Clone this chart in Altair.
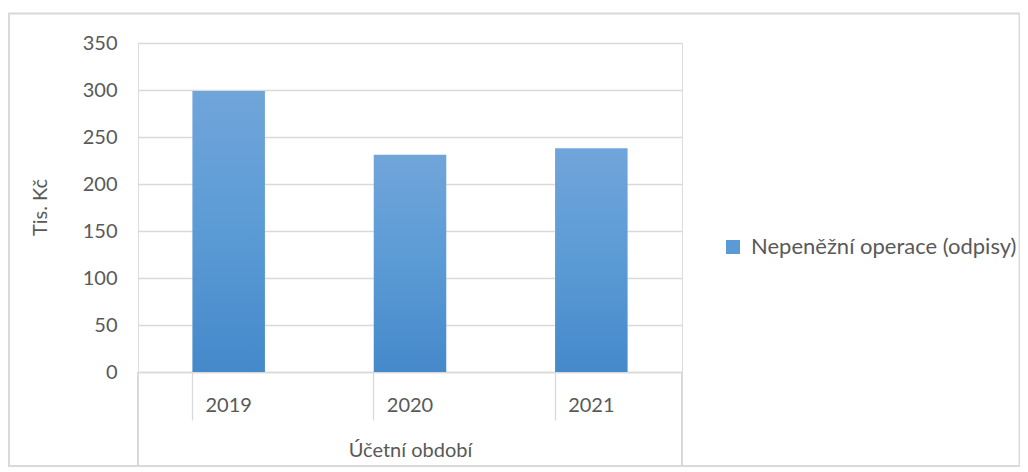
import altair as alt
import pandas as pd

years = ["2019", "2020", "2021"]
values = [299, 231, 238]
series_name = "Nepeněžní operace (odpisy)"

df = pd.DataFrame({"rok": years, "hodnota": values, "serie": [series_name] * 3})

FONT = "Lato"
TXT = "#595959"
GRID = "#D9D9D9"
FS = 20
W, H = 544, 329

x_enc = alt.X(
    "rok:N",
    sort=years,
    scale=alt.Scale(paddingInner=0.6, paddingOuter=0.3),
    axis=alt.Axis(
        title="Účetní období",
        labelAngle=0,
        bandPosition=0,
        ticks=True,
        tickSize=48,
        tickColor=GRID,
        tickWidth=1.3,
        domainColor=GRID,
        domainWidth=1.3,
        labelBaseline="middle",
        labelPadding=-15,
        labelFontSize=FS,
        labelColor=TXT,
        labelFont=FONT,
        titleFont=FONT,
        titleFontSize=FS,
        titleFontWeight="normal",
        titleColor=TXT,
        titleY=78,
        titleBaseline="middle",
        grid=False,
    ),
)

y_enc = alt.Y(
    "hodnota:Q",
    scale=alt.Scale(domain=[0, 350]),
    axis=alt.Axis(
        title="Tis. Kč",
        values=[0, 50, 100, 150, 200, 250, 300, 350],
        ticks=False,
        domain=False,
        gridColor=GRID,
        gridWidth=1.3,
        labelPadding=21,
        labelFontSize=FS,
        labelColor=TXT,
        labelFont=FONT,
        titleFont=FONT,
        titleFontSize=FS,
        titleFontWeight="normal",
        titleColor=TXT,
        titleX=-98,
        titleY=164,
        titleAngle=-90,
        titleBaseline="middle",
        titleAlign="center",
    ),
)

bars = alt.Chart(df).mark_bar(
    color=alt.Gradient(
        gradient="linear",
        stops=[
            alt.GradientStop(color="#70A5DA", offset=0),
            alt.GradientStop(color="#5B9BD5", offset=0.5),
            alt.GradientStop(color="#4589CB", offset=1),
        ],
        x1=0, x2=0, y1=0, y2=1,
    )
).encode(x=x_enc, y=y_enc)

legend_layer = alt.Chart(df).mark_point(filled=True, shape="square", opacity=0).encode(
    x=alt.X("rok:N", sort=years),
    y=alt.Y("hodnota:Q"),
    color=alt.Color(
        "serie:N",
        scale=alt.Scale(range=["#5B9BD5"]),
        legend=alt.Legend(
            title=None,
            orient="none",
            legendX=584,
            legendY=193,
            padding=0,
            symbolType="square",
            symbolSize=196,
            symbolOpacity=1,
            symbolStrokeWidth=0,
            labelFont=FONT,
            labelFontSize=22,
            labelColor=TXT,
            labelLimit=400,
            labelOffset=7,
        ),
    ),
)

edge_left = alt.Chart(df).mark_rect(color=GRID).encode(
    x=alt.value(-0.65), x2=alt.value(0.65), y=alt.value(H), y2=alt.value(H + 94)
)
edge_right = alt.Chart(df).mark_rect(color=GRID).encode(
    x=alt.value(W - 0.65), x2=alt.value(W + 0.65), y=alt.value(H), y2=alt.value(H + 94)
)
border = alt.Chart(df).mark_rect(fill=None, stroke=GRID, strokeWidth=1.3).encode(
    x=alt.value(-129), x2=alt.value(881.5), y=alt.value(-29.5), y2=alt.value(423)
)

chart = alt.layer(border, bars, legend_layer, edge_left, edge_right).properties(
    width=W,
    height=H,
    autosize=alt.AutoSizeParams(type="none"),
    padding={"left": 130, "top": 35, "right": 338, "bottom": 96},
).configure_view(stroke=None).configure(background="white")

chart.save("out.html", embed_options={"renderer": "svg", "actions": False})
